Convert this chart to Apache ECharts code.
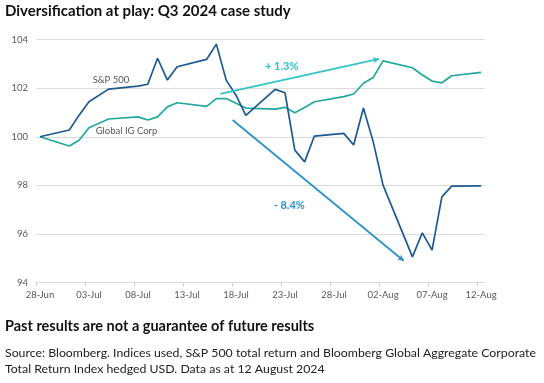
<!DOCTYPE html>
<html>
<head>
<meta charset="utf-8">
<script src="https://cdn.jsdelivr.net/npm/echarts@6/dist/echarts.min.js"></script>
<style>html,body{margin:0;padding:0;background:#fff}#c{width:544px;height:383px}</style>
</head>
<body>
<div id="c"></div>
<script>
// ---- data ----
const dates = ['2024-06-28','2024-07-01','2024-07-02','2024-07-03','2024-07-05','2024-07-08','2024-07-09','2024-07-10','2024-07-11','2024-07-12',
  '2024-07-15','2024-07-16','2024-07-17','2024-07-18','2024-07-19','2024-07-22','2024-07-23','2024-07-24','2024-07-25','2024-07-26',
  '2024-07-29','2024-07-30','2024-07-31','2024-08-01','2024-08-02','2024-08-05','2024-08-06','2024-08-07','2024-08-08','2024-08-09','2024-08-12'];
const sp500 = [100,100.28,100.89,101.44,101.96,102.08,102.16,103.23,102.33,102.88,
  103.18,103.81,102.33,101.71,100.88,101.95,101.81,99.45,98.97,100.03,
  100.14,99.66,101.18,99.79,98.01,95.06,96.05,95.34,97.53,97.97,97.98];
const igCorp = [100,99.62,99.86,100.37,100.73,100.82,100.69,100.82,101.23,101.40,
  101.25,101.57,101.57,101.38,101.18,101.14,101.21,100.99,101.2,101.44,
  101.65,101.76,102.2,102.44,103.12,102.84,102.54,102.29,102.22,102.51,102.65];
const xTickLabels = ['28-Jun','03-Jul','08-Jul','13-Jul','18-Jul','23-Jul','28-Jul','02-Aug','07-Aug','12-Aug'];
const yTicks = [94,96,98,100,102,104];
// annotation arrows: [startDayIdx, startValue, endDayIdx, endValue]
const upArrow = [18.4, 101.76, 34.6, 103.2];
const downArrow = [19.66, 100.69, 37.1, 94.9];

// ---- build ----
const t0 = Date.parse(dates[0]);
const dayIdx = d => Math.round((Date.parse(d) - t0) / 86400000);
const spData = dates.map((d,i) => [dayIdx(d), sp500[i]]);
const igData = dates.map((d,i) => [dayIdx(d), igCorp[i]]);
const labelVals = xTickLabels.map((_,i) => i*5);
const tickVals = xTickLabels.map((_,i) => i*5 - 0.4);

const chart = echarts.init(document.getElementById('c'));
const FONT = 'Lato';
chart.setOption({
  animation: false,
  grid: {left: 36, right: 59, top: 39.5, bottom: 100.3, containLabel: false},
  xAxis: {
    type: 'value', min: -0.4, max: 45.4,
    axisLine: {show: true, lineStyle: {color: '#d9d9d9', width: 1}},
    axisTick: {show: true, length: 4, lineStyle: {color: '#d0d0d0'}, customValues: tickVals},
    axisLabel: {customValues: labelVals, formatter: v => xTickLabels[Math.round(v/5)] || '', color: '#595959', fontSize: 9.5, fontFamily: FONT, margin: 7},
    splitLine: {show: false}
  },
  yAxis: {
    type: 'value', min: yTicks[0], max: yTicks[yTicks.length-1], interval: 2,
    axisLine: {show: false}, axisTick: {show: false},
    axisLabel: {color: '#595959', fontSize: 9.5, fontFamily: FONT, margin: 8},
    splitLine: {lineStyle: {color: '#dcdcdc', width: 1}}
  },
  series: [
    {name: 'Global IG Corp', type: 'line', data: igData, symbol: 'none', lineStyle: {color: '#22a89f', width: 1.7}, z: 2,
      markLine: {symbol: ['none','arrow'], symbolSize: [5,6], silent: true, label: {show: false},
        lineStyle: {color: '#36c4c6', width: 1.8, type: 'solid'},
        data: [[{coord: [upArrow[0], upArrow[1]]}, {coord: [upArrow[2], upArrow[3]]}]]}},
    {name: 'S&P 500', type: 'line', data: spData, symbol: 'none', lineStyle: {color: '#1d5a92', width: 1.7}, z: 3,
      markLine: {symbol: ['none','arrow'], symbolSize: [5,6], silent: true, label: {show: false},
        lineStyle: {color: '#2e92c9', width: 1.8, type: 'solid'},
        data: [[{coord: [downArrow[0], downArrow[1]]}, {coord: [downArrow[2], downArrow[3]]}]]}}
  ],
  graphic: [
    {type: 'text', left: 5, top: 4, style: {text: 'Diversification at play: Q3 2024 case study', font: 'bold 15px ' + FONT, fill: '#111'}},
    {type: 'text', x: 92.7, y: 80, style: {text: 'S&P 500', font: '9.5px ' + FONT, fill: '#555', verticalAlign: 'middle'}},
    {type: 'text', x: 95.7, y: 131, style: {text: 'Global IG Corp', font: '9.5px ' + FONT, fill: '#555', verticalAlign: 'middle'}},
    {type: 'text', x: 281.7, y: 66.7, style: {text: '+ 1.3%', font: 'bold 11px ' + FONT, fill: '#2fc0c4', align: 'center', verticalAlign: 'middle'}},
    {type: 'text', x: 289.3, y: 205.7, style: {text: '- 8.4%', font: 'bold 11px ' + FONT, fill: '#2a93cf', align: 'center', verticalAlign: 'middle'}},
    {type: 'text', left: 5, top: 319, style: {text: 'Past results are not a guarantee of future results', font: 'bold 14.5px ' + FONT, fill: '#111'}},
    {type: 'text', left: 5, top: 345, style: {text: 'Source: Bloomberg. Indices used, S&P 500 total return and Bloomberg Global Aggregate Corporate\nTotal Return Index hedged USD. Data as at 12 August 2024', font: '12.3px ' + FONT, fill: '#222', lineHeight: 16}}
  ]
});
</script>
</body>
</html>
